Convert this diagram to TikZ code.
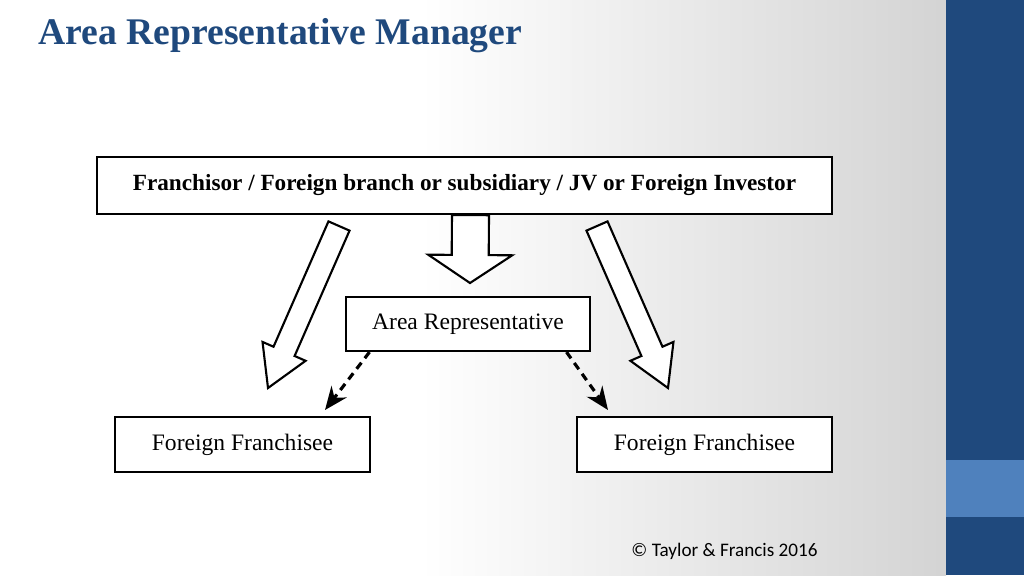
\documentclass[tikz,border=0pt]{standalone}
\usepackage{fontspec}
\setmainfont{Liberation Serif}
\newfontfamily\copyfont{Carlito}
\usetikzlibrary{positioning,calc,arrows.meta}
\definecolor{barblue}{HTML}{1F497D}
\definecolor{lightblue}{HTML}{4F81BD}
\definecolor{titleblue}{HTML}{1F497D}

\tikzset{
  box/.style={draw,line width=0.6pt,fill=white,font=\fontsize{6.7}{8}\selectfont,inner sep=0pt},
  bigarrow/.style={draw,line width=0.6pt,fill=white,line join=miter},
  dasharrow/.style={line width=0.9pt,dashed,dash pattern=on 2.2pt off 1.6pt,-{Stealth[length=2.3mm,width=1.9mm]}}
}
% hollow block arrow: start, tip, shaft half width, head half width, head length
\newcommand{\hollowarrow}[5]{%
  \coordinate (hb) at ($(#2)!#5!(#1)$);
  \draw[bigarrow] ($(#1)!#3!90:(#2)$) -- ($(hb)!#3!-90:(#1)$) -- ($(hb)!#4!-90:(#1)$)
    -- (#2) -- ($(hb)!#4!90:(#1)$) -- ($(hb)!#3!90:(#1)$) -- ($(#1)!#3!-90:(#2)$) -- cycle;
}

\begin{document}
\begin{tikzpicture}[x=0.01cm,y=-0.01cm]
  \useasboundingbox (0,0) rectangle (1024,575);
  % background
  \fill[white] (0,0) rectangle (946,575);
  \shade[left color=white,right color=black!17] (420,0) rectangle (946,575);
  \fill[barblue] (946,0) rectangle (1024,575);
  \fill[lightblue] (946,460) rectangle (1024,517);

  % title
  \node[anchor=west,inner sep=0pt,text=titleblue,font=\fontsize{10.7}{13}\selectfont\bfseries] (title) at (38,36) {Area Representative Manager};

  % boxes
  \node[box,minimum width=7.35cm,minimum height=0.57cm,font=\fontsize{6.6}{8}\selectfont\bfseries] (top) at (464.5,185.5)
    {Franchisor / Foreign branch or subsidiary / JV or Foreign Investor};
  \node[box,minimum width=2.44cm,minimum height=0.54cm] (ar) at (468,324) {Area Representative};
  \node[box,minimum width=2.55cm,minimum height=0.55cm] (ffl) at (242.5,444.5) {Foreign Franchisee};
  \node[box,minimum width=2.55cm,minimum height=0.55cm] (ffr) at (704.5,444.5) {Foreign Franchisee};

  % block arrows
  \coordinate (ms) at ($(top.south)+(6,0)$);
  \coordinate (mt) at (470,283);
  \hollowarrow{ms}{mt}{0.185cm}{0.42cm}{0.28cm}
  \coordinate (ls) at (339,226);
  \coordinate (lt) at (268,388);
  \hollowarrow{ls}{lt}{0.115cm}{0.235cm}{0.40cm}
  \coordinate (rs) at (597,226);
  \coordinate (rt) at (668,388);
  \hollowarrow{rs}{rt}{0.115cm}{0.235cm}{0.40cm}

  % dashed arrows
  \coordinate (dl) at (325,410);
  \coordinate (dr) at (608,410);
  \draw[dasharrow] ($(ar.south west)!0.1!(ar.south east)$) -- (dl);
  \draw[dasharrow] ($(ar.south west)!0.9!(ar.south east)$) -- (dr);

  % copyright
  \node[font=\copyfont\fontsize{5.45}{6}\selectfont] (copy) at (724.5,551) {© Taylor \& Francis 2016};
\end{tikzpicture}
\end{document}
